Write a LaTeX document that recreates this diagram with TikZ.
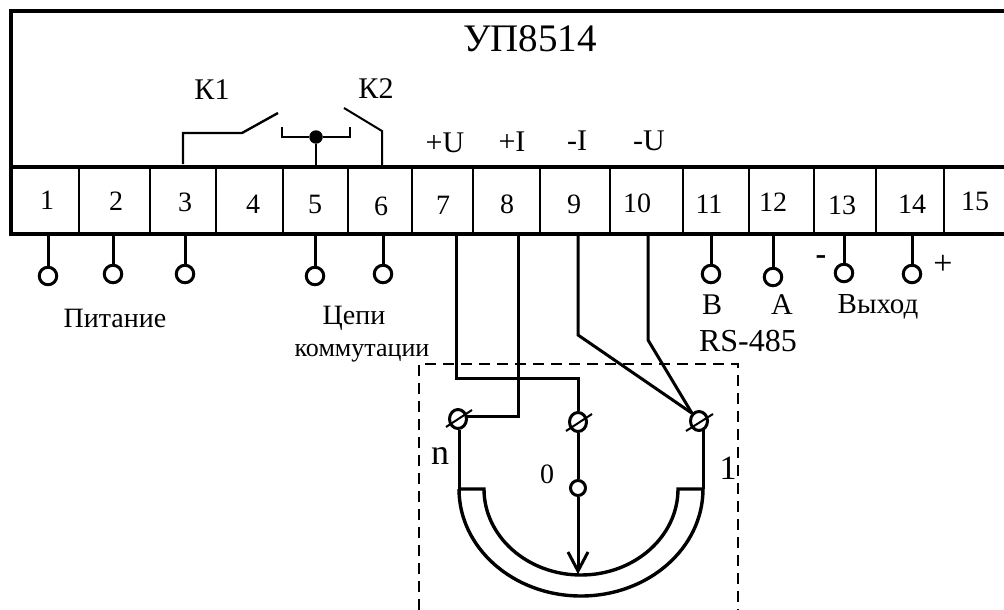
\documentclass[tikz,border=0pt]{standalone}
\usepackage{fontspec}
\setmainfont{Liberation Serif}
\usetikzlibrary{shapes.geometric}
\tikzset{
  wire/.style={line width=3pt,line join=miter},
  thin wire/.style={line width=2pt,line join=miter},
  frame/.style={line width=3.2pt,line join=miter},
  term/.style={circle,draw,line width=3pt,fill=white,inner sep=0pt,minimum size=17.5pt},
  pivot/.style={ellipse,draw,line width=3pt,inner sep=0pt,minimum width=17pt,minimum height=19pt},
  num/.style={inner sep=0pt,font=\fontsize{28}{28}\selectfont},
  lab/.style={inner sep=0pt,font=\fontsize{30}{30}\selectfont},
  biglab/.style={inner sep=0pt,font=\fontsize{30}{30}\selectfont}
}
\begin{document}
\begin{tikzpicture}[x=1pt,y=-1pt]
\useasboundingbox (0,0) rectangle (1004,610);
% housing
\draw[frame] (1004,11) -- (11,11) -- (11,234) -- (1004,234);
\draw[frame] (11,167) -- (1004,167);
\foreach \x in {79,150,216,283,348,412,473,540,610,683,749,814,876,944}
  \draw[wire,line width=2.7pt] (\x,167) -- (\x,234);
\coordinate (bot) at (0,234);
\coordinate (top) at (0,165);
\node[inner sep=0pt,font=\fontsize{39}{39}\selectfont] (title) at (530,39) {УП8514};
% cell numbers
\node[num] (n1) at (47,200) {1};
\node[num] (n2) at (116,201) {2};
\node[num] (n3) at (185,202) {3};
\node[num] (n4) at (253,204) {4};
\node[num] (n5) at (315,204) {5};
\node[num] (n6) at (381,206) {6};
\node[num] (n7) at (443,205) {7};
\node[num] (n8) at (507,204) {8};
\node[num] (n9) at (574,204) {9};
\node[num] (n10) at (637,203) {10};
\node[num] (n11) at (709,204) {11};
\node[num] (n12) at (773,202) {12};
\node[num] (n13) at (842,205) {13};
\node[num] (n14) at (912,204) {14};
\node[num] (n15) at (975,201) {15};
% terminals
\foreach \n/\x/\y in {1/48/276,2/113/274,3/185/274,5/315/276,6/383/274,11/711/274,12/773/277,13/844/273,14/912/274}{
  \node[term] (t\n) at (\x,\y) {};
  \draw[wire] (t\n.north) -- (t\n |- bot);
}
% relay contacts
\coordinate (k1a) at (183,164);
\coordinate (k1b) at (183,133);
\coordinate (k1c) at (242,133);
\coordinate (k1d) at (278,113);
\draw[thin wire,line width=2.4pt] (k1a) -- (k1b) -- (k1c) -- (k1d);
\node[circle,fill=black,inner sep=0pt,minimum size=13.5pt] (dot) at (316,137) {};
\coordinate (brl) at (282,127);
\coordinate (brr) at (350,127);
\draw[thin wire] (brl) -- (282,137) -- (dot) -- (350,137) -- (brr);
\draw[thin wire,line width=2.4pt] (dot) -- (dot |- top);
\coordinate (k2a) at (344,108);
\coordinate (k2b) at (382,131);
\coordinate (k2c) at (382,165);
\draw[thin wire] (k2a) -- (k2b) -- (k2c);
\node[lab] (lk1) at (212,90) {К1};
\node[lab] (lk2) at (376,89) {К2};
\node[biglab] (lpu) at (445,143) {+U};
\node[biglab] (lpi) at (512,142) {+I};
\node[biglab] (lmi) at (577,141) {-I};
\node[biglab] (lmu) at (649,141) {-U};
% labels
\node[num] (lpit) at (115,318) {Питание};
\node[num] (lcep) at (354,318) {Цепи};
\node[inner sep=0pt,font=\fontsize{26}{26}\selectfont] (lkom) at (362,353) {коммутации};
\node[lab] (lb) at (712,305) {В};
\node[lab] (la) at (782,305) {А};
\node[inner sep=0pt,font=\fontsize{32}{32}\selectfont] (lrs) at (748,341) {RS-485};
\node[inner sep=0pt,font=\fontsize{29}{29}\selectfont] (lvy) at (878,307) {Выход};
\node[inner sep=0pt,font=\bfseries\fontsize{32}{32}\selectfont] (lmin) at (821,260) {-};
\node[inner sep=0pt,font=\fontsize{34}{34}\selectfont] (lpl) at (943,265) {+};
% dashed enclosure
\draw[line width=2pt,dash pattern=on 11pt off 7pt] (419,610) -- (419,364) -- (738,364) -- (738,610);
% potentiometer terminals
\node[pivot] (pn) at (458,419) {};
\node[pivot] (p0) at (578,422) {};
\node[pivot] (p1) at (699,421) {};
\node[pivot,minimum width=15pt,minimum height=15pt] (wip) at (578,488) {};
\draw[thin wire] (446,427) -- (472,410);
\draw[thin wire] (566,431) -- (592,414);
\draw[thin wire] (686,431) -- (713,414);
% wires from cells
\coordinate (w7) at (456,236);
\coordinate (w8) at (518,236);
\draw[wire] (w7) -- (456,378) -- (578,378) -- (p0.north);
\draw[wire] (w8) -- (518,416) -- (pn.north east |- 0,416);
\coordinate (w9a) at (578,234);
\coordinate (w9b) at (578,335);
\coordinate (w10a) at (648,234);
\coordinate (w10b) at (648,340);
\draw[wire] (w9a) -- (w9b) -- (p1.north west);
\draw[wire] (w10a) -- (w10b) -- (p1.north west);
% resistor
\coordinate (ol) at (459,489);
\coordinate (il) at (484,489);
\coordinate (ir) at (678,489);
\coordinate (or) at (703,489);
\coordinate (tip) at (578,571);
\draw[wire] (ol |- pn.south) -- (ol);
\draw[wire] (or |- p1.south east) -- (or);
\draw[wire,line width=3.4pt] (ol) -- (il) arc[start angle=180,end angle=0,x radius=97,y radius=86] -- (or) arc[start angle=0,end angle=180,x radius=122,y radius=107];
\draw[wire] (p0.south) -- (wip.north);
\draw[wire] (wip.south) -- (tip);
\draw[wire] (568,552) -- (tip) -- (588,552);
\node[inner sep=0pt,font=\fontsize{36}{36}\selectfont] (ln) at (440,456) {n};
\node[inner sep=0pt,font=\fontsize{34}{34}\selectfont] (l1) at (728,468) {1};
\node[num] (l0) at (547,474) {0};
\end{tikzpicture}
\end{document}
